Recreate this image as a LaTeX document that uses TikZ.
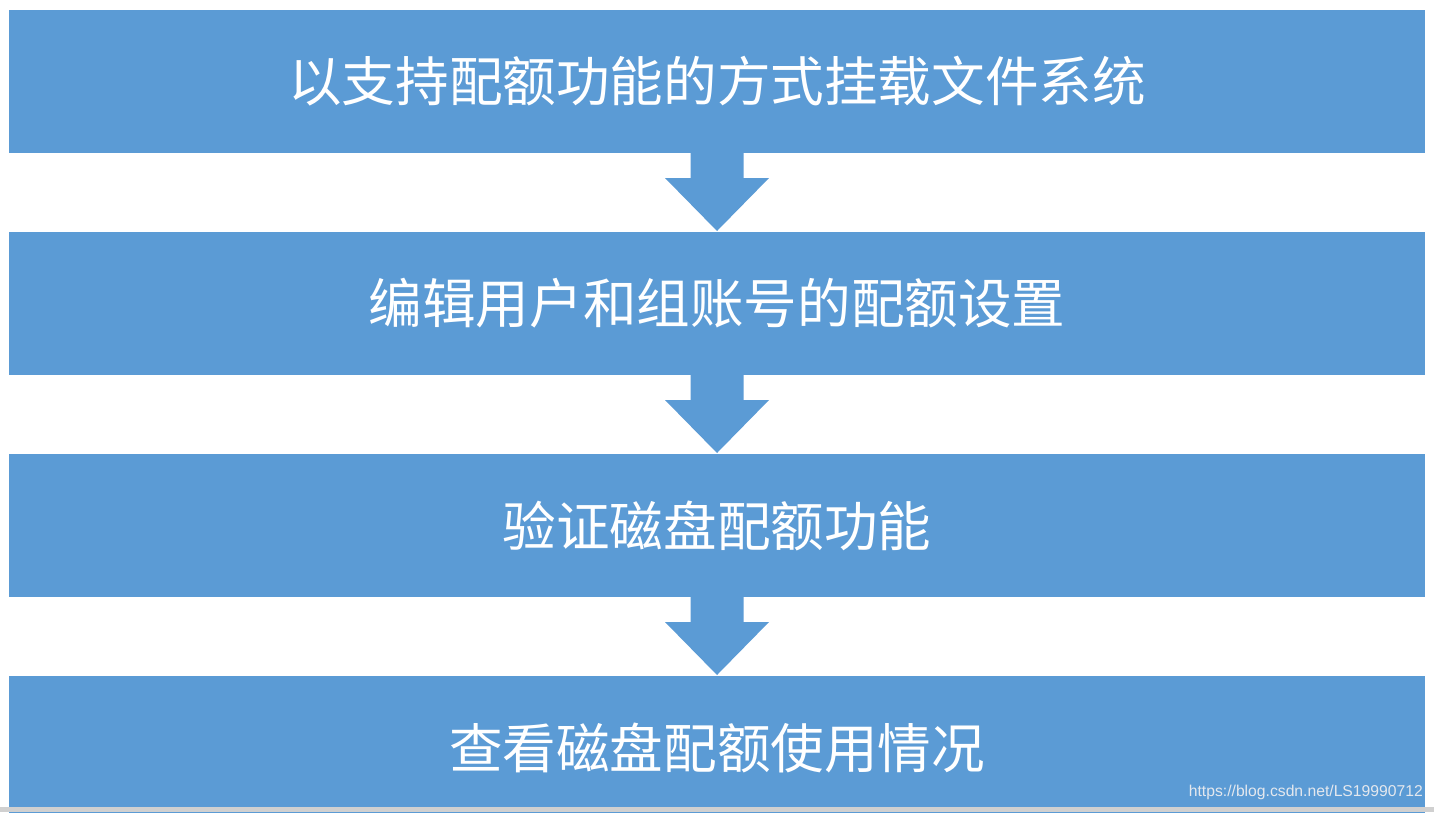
\documentclass[tikz,border=0pt]{standalone}
\usepackage{fontspec}
\newfontfamily\cjk{Noto Sans CJK SC}
\setsansfont{Liberation Sans}
\usetikzlibrary{calc}
\definecolor{boxblue}{HTML}{5B9BD5}
\definecolor{bandgray}{HTML}{D0D0D0}
\definecolor{wmgray}{HTML}{E4E8EE}
\tikzset{
  stepbox/.style={fill=boxblue, draw=none, minimum width=1416pt, minimum height=143pt,
    inner sep=0pt, outer sep=0pt, text=white, font=\cjk\fontsize{53.6pt}{58pt}\selectfont},
  flowarrow/.style={fill=boxblue, draw=none}
}
\newcommand{\downarrowshape}[2]{%
  \fill[flowarrow] ($(#1.south)+(-26.5pt,0)$) -- ($(#1.south)+(26.5pt,0)$)
    -- ($(#1.south)+(26.5pt,-25pt)$) -- ($(#1.south)+(52pt,-25pt)$)
    -- ($(#2.north)+(0,1pt)$) -- ($(#1.south)+(-52pt,-25pt)$)
    -- ($(#1.south)+(-26.5pt,-25pt)$) -- cycle;}
\begin{document}
\begin{tikzpicture}[x=1pt,y=-1pt]
\useasboundingbox (0,0) rectangle (1434,812);
\fill[white] (0,0) rectangle (1434,812);
\node[stepbox] (b1) at (717,81.5) {以支持配额功能的方式挂载文件系统};
\node[stepbox] (b2) at (717,303.5) {编辑用户和组账号的配额设置};
\node[stepbox] (b3) at (717,525.5) {验证磁盘配额功能};
\node[stepbox] (b4) at (717,747.5) {查看磁盘配额使用情况};
\fill[white] (0,806.5) rectangle (1434,812);
\fill[bandgray] (0,807) rectangle (1434,812);
\downarrowshape{b1}{b2}
\downarrowshape{b2}{b3}
\downarrowshape{b3}{b4}
\node[anchor=south east, inner sep=0pt, text=wmgray, font=\sffamily\fontsize{15.7pt}{17pt}\selectfont] (wm) at (1423,800) {https://blog.csdn.net/LS19990712};
\end{tikzpicture}
\end{document}
